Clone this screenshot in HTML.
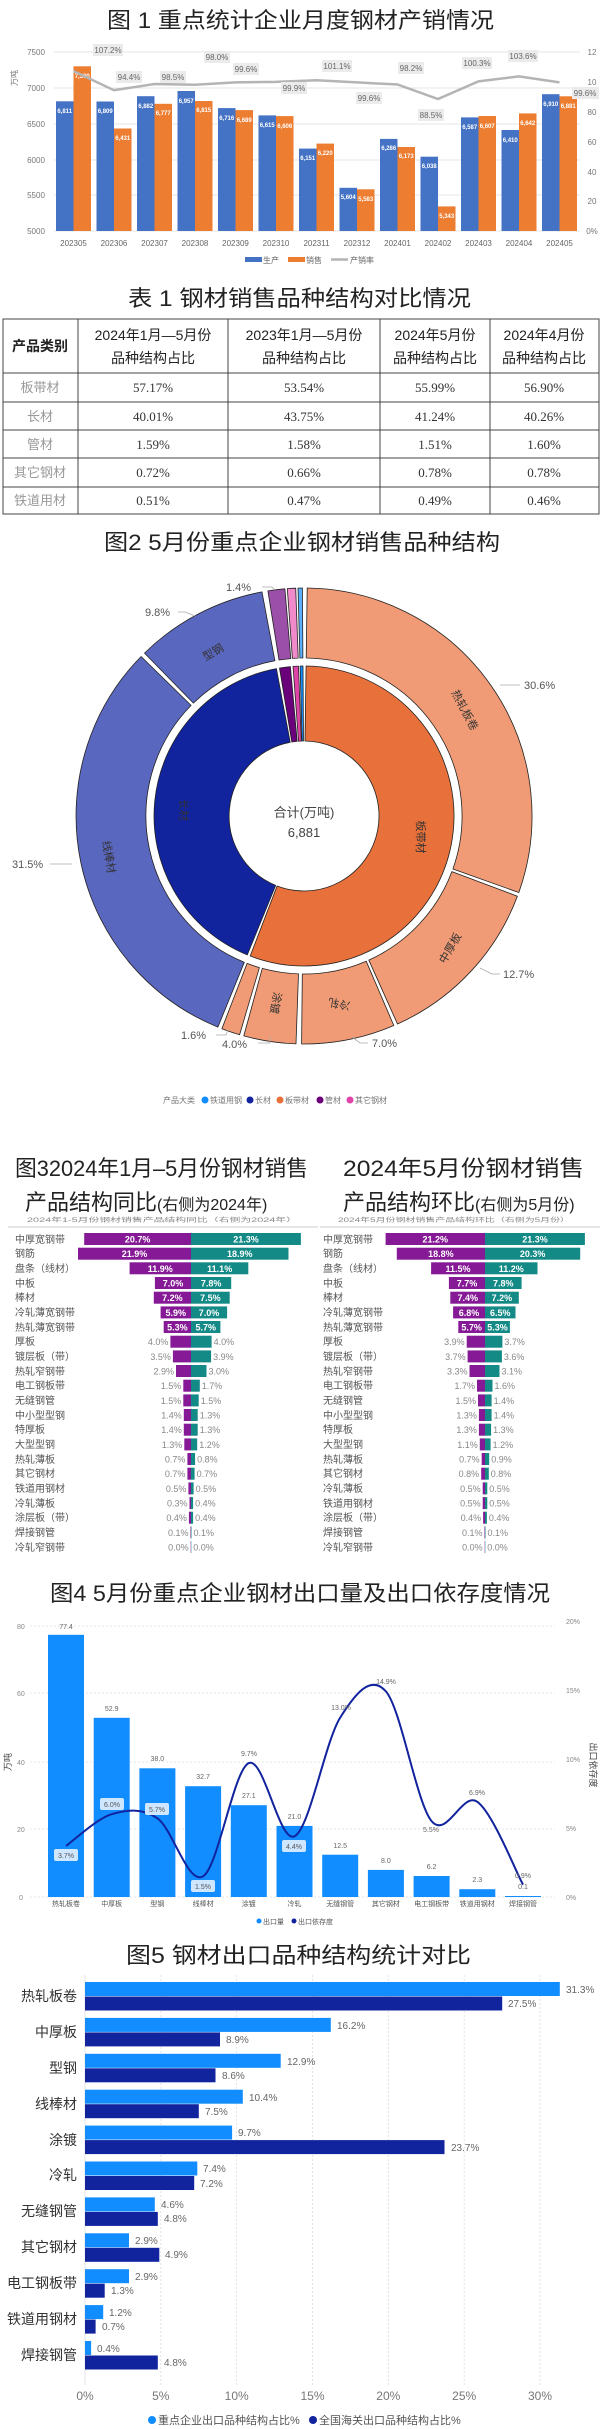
<!DOCTYPE html>
<html><head><meta charset="utf-8"><style>
html,body{margin:0;padding:0;background:#fff;}
svg{display:block;font-family:"Liberation Sans","Noto Sans CJK SC",sans-serif;}
</style></head><body>
<svg width="600" height="2429" viewBox="0 0 600 2429" xmlns="http://www.w3.org/2000/svg">
<rect width="600" height="2429" fill="#fff"/>

<!-- ============ FIG 1 ============ -->
<text x="107" y="28" font-size="22" fill="#222" textLength="387" lengthAdjust="spacingAndGlyphs">图 1 重点统计企业月度钢材产销情况</text>
<g stroke="#e4e4e4" stroke-width="1">
<line x1="54" y1="52" x2="580" y2="52"/><line x1="54" y1="88" x2="580" y2="88"/><line x1="54" y1="124" x2="580" y2="124"/><line x1="54" y1="160" x2="580" y2="160"/><line x1="54" y1="195" x2="580" y2="195"/><line x1="54" y1="231" x2="580" y2="231"/>
</g>
<g font-size="8" fill="#777" text-anchor="middle">
<text x="36" y="55">7500</text><text x="36" y="91">7000</text><text x="36" y="127">6500</text><text x="36" y="163">6000</text><text x="36" y="198">5500</text><text x="36" y="234">5000</text>
<text x="592" y="55">12</text><text x="592" y="85">10</text><text x="592" y="115">80</text><text x="592" y="145">60</text><text x="592" y="175">40</text><text x="592" y="204">20</text><text x="592" y="234">0%</text>
<text x="17" y="78" transform="rotate(-90 17 78)">万吨</text>
</g>
<g fill="#4472C4">
<rect x="56" y="101.3" width="17.5" height="129.7"/><rect x="96.5" y="101.5" width="17.5" height="129.5"/><rect x="137" y="96.2" width="17.5" height="134.8"/><rect x="177.5" y="91" width="17.5" height="140"/><rect x="218" y="108.1" width="17.5" height="122.9"/><rect x="258.5" y="115.4" width="17.5" height="115.6"/><rect x="299" y="148.6" width="17.5" height="82.4"/><rect x="339.5" y="187.8" width="17.5" height="43.2"/><rect x="380" y="138.9" width="17.5" height="92.1"/><rect x="420.5" y="156.7" width="17.5" height="74.3"/><rect x="461" y="117.4" width="17.5" height="113.6"/><rect x="501.5" y="130" width="17.5" height="101"/><rect x="542" y="94.2" width="17.5" height="136.8"/>
</g>
<g fill="#ED7D31">
<rect x="73.5" y="66.3" width="17.5" height="164.7"/><rect x="114" y="128.5" width="17.5" height="102.5"/><rect x="154.5" y="103.8" width="17.5" height="127.2"/><rect x="195" y="101" width="17.5" height="130"/><rect x="235.5" y="110.1" width="17.5" height="120.9"/><rect x="276" y="116.1" width="17.5" height="114.9"/><rect x="316.5" y="143.6" width="17.5" height="87.4"/><rect x="357" y="189.3" width="17.5" height="41.7"/><rect x="397.5" y="147" width="17.5" height="84"/><rect x="438" y="206.4" width="17.5" height="24.6"/><rect x="478.5" y="116" width="17.5" height="115"/><rect x="519" y="113.4" width="17.5" height="117.6"/><rect x="559.5" y="96.3" width="17.5" height="134.7"/>
</g>
<g font-size="6" fill="#fff" text-anchor="middle" font-weight="bold">
<text x="64.7" y="113">6,811</text><text x="105.2" y="113">6,809</text><text x="145.7" y="108">6,882</text><text x="186.2" y="103">6,957</text><text x="226.7" y="120">6,716</text><text x="267.2" y="127">6,615</text><text x="307.7" y="160">6,151</text><text x="348.2" y="199">5,604</text><text x="388.7" y="150">6,286</text><text x="429.2" y="168">6,038</text><text x="469.7" y="129">6,587</text><text x="510.2" y="142">6,410</text><text x="550.7" y="106">6,910</text>
<text x="82.2" y="78">7,300</text><text x="122.7" y="140">6,431</text><text x="163.2" y="115">6,777</text><text x="203.7" y="112">6,815</text><text x="244.2" y="122">6,689</text><text x="284.7" y="128">6,606</text><text x="325.2" y="155">6,220</text><text x="365.7" y="201">5,583</text><text x="406.2" y="158">6,173</text><text x="446.7" y="218">5,343</text><text x="487.2" y="128">6,607</text><text x="527.7" y="125">6,642</text><text x="568.2" y="108">6,881</text>
</g>
<polyline fill="none" stroke="#b4b4b4" stroke-width="2.5" points="73.5,71.1 114,90.2 154.5,84 195,84.8 235.5,82.4 276,81.9 316.5,80.2 357,82.4 397.5,84.5 438,99 478.5,81.4 519,76.4 559.5,82.4"/>
<g font-size="8" fill="#666" text-anchor="middle">
<rect x="93" y="44" width="30" height="12" fill="#ebebeb"/><text x="108" y="53">107.2%</text>
<rect x="116" y="71" width="26" height="12" fill="#ebebeb"/><text x="129" y="80">94.4%</text>
<rect x="160" y="71" width="26" height="12" fill="#ebebeb"/><text x="173" y="80">98.5%</text>
<rect x="204" y="51" width="26" height="12" fill="#ebebeb"/><text x="217" y="60">98.0%</text>
<rect x="233" y="63" width="26" height="12" fill="#ebebeb"/><text x="246" y="72">99.6%</text>
<rect x="281" y="82" width="26" height="12" fill="#ebebeb"/><text x="294" y="91">99.9%</text>
<rect x="322" y="60" width="30" height="12" fill="#ebebeb"/><text x="337" y="69">101.1%</text>
<rect x="356" y="92" width="26" height="12" fill="#ebebeb"/><text x="369" y="101">99.6%</text>
<rect x="398" y="62" width="26" height="12" fill="#ebebeb"/><text x="411" y="71">98.2%</text>
<rect x="418" y="109" width="26" height="12" fill="#ebebeb"/><text x="431" y="118">88.5%</text>
<rect x="462" y="57" width="30" height="12" fill="#ebebeb"/><text x="477" y="66">100.3%</text>
<rect x="508" y="50" width="30" height="12" fill="#ebebeb"/><text x="523" y="59">103.6%</text>
<rect x="572" y="87" width="27" height="12" fill="#ebebeb"/><text x="585" y="96">99.6%</text>
</g>
<g font-size="8" fill="#666" text-anchor="middle">
<text x="73.5" y="246">202305</text><text x="114" y="246">202306</text><text x="154.5" y="246">202307</text><text x="195" y="246">202308</text><text x="235.5" y="246">202309</text><text x="276" y="246">202310</text><text x="316.5" y="246">202311</text><text x="357" y="246">202312</text><text x="397.5" y="246">202401</text><text x="438" y="246">202402</text><text x="478.5" y="246">202403</text><text x="519" y="246">202404</text><text x="559.5" y="246">202405</text>
</g>
<rect x="245" y="257" width="17" height="5" fill="#4472C4"/><text x="263" y="263" font-size="8" fill="#666">生产</text>
<rect x="288" y="257" width="17" height="5" fill="#ED7D31"/><text x="306" y="263" font-size="8" fill="#666">销售</text>
<line x1="331" y1="259.5" x2="348" y2="259.5" stroke="#b4b4b4" stroke-width="2.5"/><text x="350" y="263" font-size="8" fill="#666">产销率</text>

<!-- ============ TABLE 1 ============ -->
<text x="128" y="306" font-size="22" fill="#222" textLength="343" lengthAdjust="spacingAndGlyphs">表 1 钢材销售品种结构对比情况</text>
<g stroke="#444" stroke-width="1" fill="none">
<rect x="3" y="319" width="596" height="195"/>
<line x1="78" y1="319" x2="78" y2="514"/><line x1="228" y1="319" x2="228" y2="514"/><line x1="380" y1="319" x2="380" y2="514"/><line x1="490" y1="319" x2="490" y2="514"/>
<line x1="3" y1="373" x2="599" y2="373"/><line x1="3" y1="402" x2="599" y2="402"/><line x1="3" y1="430" x2="599" y2="430"/><line x1="3" y1="458" x2="599" y2="458"/><line x1="3" y1="487" x2="599" y2="487"/>
</g>
<g font-size="14" fill="#222" text-anchor="middle">
<text x="40" y="351" font-weight="bold">产品类别</text>
<text x="153" y="340">2024年1月—5月份</text><text x="153" y="363">品种结构占比</text>
<text x="304" y="340">2023年1月—5月份</text><text x="304" y="363">品种结构占比</text>
<text x="435" y="340">2024年5月份</text><text x="435" y="363">品种结构占比</text>
<text x="544" y="340">2024年4月份</text><text x="544" y="363">品种结构占比</text>
</g>
<g font-size="13" fill="#999" text-anchor="middle">
<text x="40" y="392">板带材</text><text x="40" y="421">长材</text><text x="40" y="449">管材</text><text x="40" y="477">其它钢材</text><text x="40" y="505">铁道用材</text>
</g>
<g font-size="13" fill="#333" text-anchor="middle" font-family="Liberation Serif,serif">
<text x="153" y="392">57.17%</text><text x="304" y="392">53.54%</text><text x="435" y="392">55.99%</text><text x="544" y="392">56.90%</text>
<text x="153" y="421">40.01%</text><text x="304" y="421">43.75%</text><text x="435" y="421">41.24%</text><text x="544" y="421">40.26%</text>
<text x="153" y="449">1.59%</text><text x="304" y="449">1.58%</text><text x="435" y="449">1.51%</text><text x="544" y="449">1.60%</text>
<text x="153" y="477">0.72%</text><text x="304" y="477">0.66%</text><text x="435" y="477">0.78%</text><text x="544" y="477">0.78%</text>
<text x="153" y="505">0.51%</text><text x="304" y="505">0.47%</text><text x="435" y="505">0.49%</text><text x="544" y="505">0.46%</text>
</g>

<!-- ============ FIG 2 ============ -->
<text x="104" y="550" font-size="22" fill="#222" textLength="396" lengthAdjust="spacingAndGlyphs">图2 5月份重点企业钢材销售品种结构</text>
<g stroke="#222" stroke-width="0.8" stroke-linejoin="round">
<path fill="#E8703A" d="M306.1,666 A150,150 0 1 1 250.2,956 L277.1,886 A75,75 0 1 0 305,741 Z"/>
<path fill="#12239E" d="M247.3,954.9 A150,150 0 0 1 276.4,668.6 L290.2,742.3 A75,75 0 0 0 275.7,885.4 Z"/>
<path fill="#6B007B" d="M279.5,668 A150,150 0 0 1 290.4,666.6 L297.2,741.3 A75,75 0 0 0 291.8,742 Z"/>
<path fill="#E044A7" d="M293,666.4 A150,150 0 0 1 298.5,666.1 L301.3,741.1 A75,75 0 0 0 298.5,741.2 Z"/>
<path fill="#118DFF" d="M300.1,666 A150,150 0 0 1 303,666 L303.5,741 A75,75 0 0 0 302,741 Z"/>
<path fill="#F09B75" d="M307.2,588 A228,228 0 0 1 518.8,892.5 L452.9,869 A158,158 0 0 0 306.2,658 Z"/>
<path fill="#F09B75" d="M517.4,896.2 A228,228 0 0 1 397.5,1024 L368.8,960.1 A158,158 0 0 0 451.9,871.6 Z"/>
<path fill="#F09B75" d="M393.8,1025.5 A228,228 0 0 1 301.6,1044 L302.3,974 A158,158 0 0 0 366.2,961.2 Z"/>
<path fill="#F09B75" d="M296,1043.9 A228,228 0 0 1 243.8,1035.9 L262.3,968.4 A158,158 0 0 0 298.5,973.9 Z"/>
<path fill="#F09B75" d="M239.6,1034.7 A228,228 0 0 1 221.9,1028.7 L247.1,963.4 A158,158 0 0 0 259.4,967.6 Z"/>
<path fill="#5A67BE" d="M217.9,1027.1 A228,228 0 0 1 141.1,656.5 L191.1,705.4 A158,158 0 0 0 244.3,962.3 Z"/>
<path fill="#5A67BE" d="M144.5,653.1 A228,228 0 0 1 262,591.9 L274.9,660.7 A158,158 0 0 0 193.4,703.1 Z"/>
<path fill="#9C4FA8" d="M267.9,590.9 A228,228 0 0 1 284.9,588.8 L290.8,658.6 A158,158 0 0 0 279,660 Z"/>
<path fill="#F08ACB" d="M287.3,588.6 A228,228 0 0 1 295.7,588.2 L298.2,658.1 A158,158 0 0 0 292.4,658.4 Z"/>
<path fill="#5AB0FF" d="M298,588.1 A228,228 0 0 1 302.4,588 L302.9,658 A158,158 0 0 0 299.9,658 Z"/>
</g>
<g font-size="13" fill="#444" text-anchor="middle">
<text x="304" y="817">合计(万吨)</text><text x="304" y="837">6,881</text>
</g>
<g font-size="11" fill="#333" text-anchor="middle">
<text transform="translate(184,810) rotate(90)" y="4">长材</text>
<text transform="translate(421,837) rotate(90)" y="4">板带材</text>
<text transform="translate(465,710) rotate(62)" y="4">热轧板卷</text>
<text transform="translate(450,948) rotate(-60)" y="4">中厚板</text>
<text transform="translate(339,1004) rotate(190)" y="4">冷轧</text>
<text transform="translate(276,1003) rotate(100)" y="4">涂镀</text>
<text transform="translate(109,857) rotate(80)" y="4">线棒材</text>
<text transform="translate(213,652) rotate(-30)" y="4">型钢</text>
</g>
<g font-size="11" fill="#555">
<text x="524" y="689">30.6%</text><text x="503" y="978">12.7%</text><text x="372" y="1047">7.0%</text><text x="222" y="1048">4.0%</text><text x="181" y="1039">1.6%</text><text x="12" y="868">31.5%</text><text x="145" y="616">9.8%</text><text x="226" y="591">1.4%</text>
</g>
<g stroke="#aaa" stroke-width="0.8" fill="none">
<polyline points="500,685 520,685"/><polyline points="480,968 492,974 500,974"/><polyline points="352,1037 360,1043 368,1043"/><polyline points="270,1036 270,1043 258,1043"/><polyline points="228,1030 226,1035 216,1035"/><polyline points="72,864 60,864 50,864"/><polyline points="195,616 185,612 178,612"/><polyline points="275,590 272,587 262,587"/>
</g>
<g font-size="8" fill="#777">
<text x="163" y="1103">产品大类</text>
<circle cx="205" cy="1100" r="3.5" fill="#118DFF"/><text x="210" y="1103">铁道用钢</text>
<circle cx="250" cy="1100" r="3.5" fill="#12239E"/><text x="255" y="1103">长材</text>
<circle cx="280" cy="1100" r="3.5" fill="#E8703A"/><text x="285" y="1103">板带材</text>
<circle cx="320" cy="1100" r="3.5" fill="#6B007B"/><text x="325" y="1103">管材</text>
<circle cx="350" cy="1100" r="3.5" fill="#E044A7"/><text x="355" y="1103">其它钢材</text>
</g>

<!-- ============ FIG 3 ============ -->
<text x="15" y="1176" font-size="22" fill="#222" textLength="293" lengthAdjust="spacingAndGlyphs">图32024年1月–5月份钢材销售</text>
<text x="25" y="1210" font-size="22" fill="#222">产品结构同比<tspan font-size="16">(右侧为2024年)</tspan></text>
<text x="343" y="1176" font-size="22" fill="#222" textLength="241" lengthAdjust="spacingAndGlyphs">2024年5月份钢材销售</text>
<text x="343" y="1210" font-size="22" fill="#222">产品结构环比<tspan font-size="16">(右侧为5月份)</tspan></text>
<text x="27" y="1222" font-size="6" fill="#888" textLength="270" lengthAdjust="spacingAndGlyphs">2024年1-5月份钢材销售产品结构同比（右侧为2024年）</text>
<text x="338" y="1222" font-size="6" fill="#888" textLength="232" lengthAdjust="spacingAndGlyphs">2024年5月份钢材销售产品结构环比（右侧为5月份）</text>
<line x1="8" y1="1227" x2="318" y2="1227" stroke="#ccc"/><line x1="320" y1="1227" x2="600" y2="1227" stroke="#ccc"/>
<g font-size="10" fill="#555">
<text x="15" y="1243">中厚宽钢带</text><text x="15" y="1257">钢筋</text><text x="15" y="1272">盘条（线材）</text><text x="15" y="1287">中板</text><text x="15" y="1301">棒材</text><text x="15" y="1316">冷轧薄宽钢带</text><text x="15" y="1331">热轧薄宽钢带</text><text x="15" y="1345">厚板</text><text x="15" y="1360">镀层板（带）</text><text x="15" y="1375">热轧窄钢带</text><text x="15" y="1389">电工钢板带</text><text x="15" y="1404">无缝钢管</text><text x="15" y="1419">中小型型钢</text><text x="15" y="1433">特厚板</text><text x="15" y="1448">大型型钢</text><text x="15" y="1463">热轧薄板</text><text x="15" y="1477">其它钢材</text><text x="15" y="1492">铁道用钢材</text><text x="15" y="1507">冷轧薄板</text><text x="15" y="1521">涂层板（带）</text><text x="15" y="1536">焊接钢管</text><text x="15" y="1551">冷轧窄钢带</text>
<text x="323" y="1243">中厚宽钢带</text><text x="323" y="1257">钢筋</text><text x="323" y="1272">盘条（线材）</text><text x="323" y="1287">中板</text><text x="323" y="1301">棒材</text><text x="323" y="1316">冷轧薄宽钢带</text><text x="323" y="1331">热轧薄宽钢带</text><text x="323" y="1345">厚板</text><text x="323" y="1360">镀层板（带）</text><text x="323" y="1375">热轧窄钢带</text><text x="323" y="1389">电工钢板带</text><text x="323" y="1404">无缝钢管</text><text x="323" y="1419">中小型型钢</text><text x="323" y="1433">特厚板</text><text x="323" y="1448">大型型钢</text><text x="323" y="1463">热轧薄板</text><text x="323" y="1477">其它钢材</text><text x="323" y="1492">冷轧薄板</text><text x="323" y="1507">铁道用钢材</text><text x="323" y="1521">涂层板（带）</text><text x="323" y="1536">焊接钢管</text><text x="323" y="1551">冷轧窄钢带</text>
</g>
<g fill="#861A96">
<rect x="84.2" y="1233" width="106.8" height="12"/><rect x="78" y="1247.7" width="113" height="12"/><rect x="129.6" y="1262.3" width="61.4" height="12"/><rect x="154.9" y="1277" width="36.1" height="12"/><rect x="153.8" y="1291.7" width="37.2" height="12"/><rect x="160.6" y="1306.4" width="30.4" height="12"/><rect x="163.7" y="1321" width="27.3" height="12"/><rect x="170.4" y="1335.7" width="20.6" height="12"/><rect x="172.9" y="1350.4" width="18.1" height="12"/><rect x="176" y="1365" width="15" height="12"/><rect x="183.3" y="1379.7" width="7.7" height="12"/><rect x="183.3" y="1394.4" width="7.7" height="12"/><rect x="183.8" y="1409" width="7.2" height="12"/><rect x="183.8" y="1423.7" width="7.2" height="12"/><rect x="184.3" y="1438.4" width="6.7" height="12"/><rect x="187.4" y="1453" width="3.6" height="12"/><rect x="187.4" y="1467.7" width="3.6" height="12"/><rect x="188.4" y="1482.4" width="2.6" height="12"/><rect x="189.5" y="1497.1" width="1.5" height="12"/><rect x="188.9" y="1511.7" width="2.1" height="12"/><rect x="190.5" y="1526.4" width="0.5" height="12"/><rect x="190.7" y="1541.1" width="0.3" height="12"/>
<rect x="385.6" y="1233" width="99.4" height="12"/><rect x="396.8" y="1247.7" width="88.2" height="12"/><rect x="431.1" y="1262.3" width="53.9" height="12"/><rect x="448.9" y="1277" width="36.1" height="12"/><rect x="450.3" y="1291.7" width="34.7" height="12"/><rect x="453.1" y="1306.4" width="31.9" height="12"/><rect x="458.3" y="1321" width="26.7" height="12"/><rect x="466.7" y="1335.7" width="18.3" height="12"/><rect x="467.6" y="1350.4" width="17.4" height="12"/><rect x="469.5" y="1365" width="15.5" height="12"/><rect x="477" y="1379.7" width="8" height="12"/><rect x="478" y="1394.4" width="7" height="12"/><rect x="478.9" y="1409" width="6.1" height="12"/><rect x="478.9" y="1423.7" width="6.1" height="12"/><rect x="479.8" y="1438.4" width="5.2" height="12"/><rect x="481.7" y="1453" width="3.3" height="12"/><rect x="481.2" y="1467.7" width="3.8" height="12"/><rect x="482.7" y="1482.4" width="2.3" height="12"/><rect x="482.7" y="1497.1" width="2.3" height="12"/><rect x="483.1" y="1511.7" width="1.9" height="12"/><rect x="484.5" y="1526.4" width="0.5" height="12"/><rect x="484.7" y="1541.1" width="0.3" height="12"/>
</g>
<g fill="#148A87">
<rect x="191" y="1233" width="109.9" height="12"/><rect x="191" y="1247.7" width="97.5" height="12"/><rect x="191" y="1262.3" width="57.3" height="12"/><rect x="191" y="1277" width="40.2" height="12"/><rect x="191" y="1291.7" width="38.7" height="12"/><rect x="191" y="1306.4" width="36.1" height="12"/><rect x="191" y="1321" width="29.4" height="12"/><rect x="191" y="1335.7" width="20.6" height="12"/><rect x="191" y="1350.4" width="20.1" height="12"/><rect x="191" y="1365" width="15.5" height="12"/><rect x="191" y="1379.7" width="8.8" height="12"/><rect x="191" y="1394.4" width="7.7" height="12"/><rect x="191" y="1409" width="6.7" height="12"/><rect x="191" y="1423.7" width="6.7" height="12"/><rect x="191" y="1438.4" width="6.2" height="12"/><rect x="191" y="1453" width="4.1" height="12"/><rect x="191" y="1467.7" width="3.6" height="12"/><rect x="191" y="1482.4" width="2.6" height="12"/><rect x="191" y="1497.1" width="2.1" height="12"/><rect x="191" y="1511.7" width="2.1" height="12"/><rect x="191" y="1526.4" width="0.5" height="12"/><rect x="191" y="1541.1" width="0.3" height="12"/>
<rect x="485" y="1233" width="99.9" height="12"/><rect x="485" y="1247.7" width="95.2" height="12"/><rect x="485" y="1262.3" width="52.5" height="12"/><rect x="485" y="1277" width="36.6" height="12"/><rect x="485" y="1291.7" width="33.8" height="12"/><rect x="485" y="1306.4" width="30.5" height="12"/><rect x="485" y="1321" width="24.9" height="12"/><rect x="485" y="1335.7" width="17.4" height="12"/><rect x="485" y="1350.4" width="16.9" height="12"/><rect x="485" y="1365" width="14.5" height="12"/><rect x="485" y="1379.7" width="7.5" height="12"/><rect x="485" y="1394.4" width="6.6" height="12"/><rect x="485" y="1409" width="6.6" height="12"/><rect x="485" y="1423.7" width="6.1" height="12"/><rect x="485" y="1438.4" width="5.6" height="12"/><rect x="485" y="1453" width="4.2" height="12"/><rect x="485" y="1467.7" width="3.8" height="12"/><rect x="485" y="1482.4" width="2.3" height="12"/><rect x="485" y="1497.1" width="2.3" height="12"/><rect x="485" y="1511.7" width="1.9" height="12"/><rect x="485" y="1526.4" width="0.5" height="12"/><rect x="485" y="1541.1" width="0.3" height="12"/>
</g>
<g font-size="9" fill="#fff" text-anchor="middle" font-weight="bold">
<text x="137.6" y="1242.5">20.7%</text><text x="246" y="1242.5">21.3%</text>
<text x="134.5" y="1257.2">21.9%</text><text x="239.8" y="1257.2">18.9%</text>
<text x="160.3" y="1271.8">11.9%</text><text x="219.7" y="1271.8">11.1%</text>
<text x="173" y="1286.5">7.0%</text><text x="211.1" y="1286.5">7.8%</text>
<text x="172.4" y="1301.2">7.2%</text><text x="210.4" y="1301.2">7.5%</text>
<text x="175.8" y="1315.9">5.9%</text><text x="209" y="1315.9">7.0%</text>
<text x="177.4" y="1330.5">5.3%</text><text x="205.7" y="1330.5">5.7%</text>
<text x="435.3" y="1242.5">21.2%</text><text x="535" y="1242.5">21.3%</text>
<text x="440.9" y="1257.2">18.8%</text><text x="532.6" y="1257.2">20.3%</text>
<text x="458" y="1271.8">11.5%</text><text x="511.3" y="1271.8">11.2%</text>
<text x="467" y="1286.5">7.7%</text><text x="503.3" y="1286.5">7.8%</text>
<text x="467.7" y="1301.2">7.4%</text><text x="501.9" y="1301.2">7.2%</text>
<text x="469" y="1315.9">6.8%</text><text x="500.3" y="1315.9">6.5%</text>
<text x="471.6" y="1330.5">5.7%</text><text x="497.5" y="1330.5">5.3%</text>
</g>
<g font-size="9" fill="#888" text-anchor="end">
<text x="168.4" y="1345.2">4.0%</text><text x="170.9" y="1359.9">3.5%</text><text x="174" y="1374.5">2.9%</text><text x="181.3" y="1389.2">1.5%</text><text x="181.3" y="1403.9">1.5%</text><text x="181.8" y="1418.5">1.4%</text><text x="181.8" y="1433.2">1.4%</text><text x="182.3" y="1447.9">1.3%</text><text x="185.4" y="1462.5">0.7%</text><text x="185.4" y="1477.2">0.7%</text><text x="186.4" y="1491.9">0.5%</text><text x="187.5" y="1506.6">0.3%</text><text x="186.9" y="1521.2">0.4%</text><text x="188.5" y="1535.9">0.1%</text><text x="188.7" y="1550.6">0.0%</text>
<text x="464.7" y="1345.2">3.9%</text><text x="465.6" y="1359.9">3.7%</text><text x="467.5" y="1374.5">3.3%</text><text x="475" y="1389.2">1.7%</text><text x="476" y="1403.9">1.5%</text><text x="476.9" y="1418.5">1.3%</text><text x="476.9" y="1433.2">1.3%</text><text x="477.8" y="1447.9">1.1%</text><text x="479.7" y="1462.5">0.7%</text><text x="479.2" y="1477.2">0.8%</text><text x="480.7" y="1491.9">0.5%</text><text x="480.7" y="1506.6">0.5%</text><text x="481.1" y="1521.2">0.4%</text><text x="482.5" y="1535.9">0.1%</text><text x="482.7" y="1550.6">0.0%</text>
</g>
<g font-size="9" fill="#888">
<text x="213.6" y="1345.2">4.0%</text><text x="213.1" y="1359.9">3.9%</text><text x="208.5" y="1374.5">3.0%</text><text x="201.8" y="1389.2">1.7%</text><text x="200.7" y="1403.9">1.5%</text><text x="199.7" y="1418.5">1.3%</text><text x="199.7" y="1433.2">1.3%</text><text x="199.2" y="1447.9">1.2%</text><text x="197.1" y="1462.5">0.8%</text><text x="196.6" y="1477.2">0.7%</text><text x="195.6" y="1491.9">0.5%</text><text x="195.1" y="1506.6">0.4%</text><text x="195.1" y="1521.2">0.4%</text><text x="193.5" y="1535.9">0.1%</text><text x="193.3" y="1550.6">0.0%</text>
<text x="504.4" y="1345.2">3.7%</text><text x="503.9" y="1359.9">3.6%</text><text x="501.5" y="1374.5">3.1%</text><text x="494.5" y="1389.2">1.6%</text><text x="493.6" y="1403.9">1.4%</text><text x="493.6" y="1418.5">1.4%</text><text x="493.1" y="1433.2">1.3%</text><text x="492.6" y="1447.9">1.2%</text><text x="491.2" y="1462.5">0.9%</text><text x="490.8" y="1477.2">0.8%</text><text x="489.3" y="1491.9">0.5%</text><text x="489.3" y="1506.6">0.5%</text><text x="488.9" y="1521.2">0.4%</text><text x="487.5" y="1535.9">0.1%</text><text x="487.3" y="1550.6">0.0%</text>
</g>

<!-- ============ FIG 4 ============ -->
<text x="50" y="1601" font-size="22" fill="#222" textLength="500" lengthAdjust="spacingAndGlyphs">图4 5月份重点企业钢材出口量及出口依存度情况</text>
<g stroke="#ddd" stroke-width="0.8" stroke-dasharray="2,2">
<line x1="30" y1="1626" x2="555" y2="1626"/><line x1="30" y1="1693" x2="555" y2="1693"/><line x1="30" y1="1762" x2="555" y2="1762"/><line x1="30" y1="1829" x2="555" y2="1829"/><line x1="30" y1="1897" x2="555" y2="1897"/>
</g>
<g font-size="7" fill="#888">
<text x="17" y="1629">80</text><text x="17" y="1696">60</text><text x="17" y="1765">40</text><text x="17" y="1832">20</text><text x="19" y="1900">0</text>
<text x="566" y="1624">20%</text><text x="566" y="1693">15%</text><text x="566" y="1762">10%</text><text x="566" y="1831">5%</text><text x="566" y="1900">0%</text>
</g>
<text x="11" y="1762" font-size="9" fill="#444" transform="rotate(-90 11 1762)" text-anchor="middle">万吨</text>
<text x="590" y="1765" font-size="9" fill="#444" transform="rotate(90 590 1765)" text-anchor="middle">出口依存度</text>
<g fill="#118DFF">
<rect x="48" y="1634.8" width="36" height="262.2"/><rect x="93.7" y="1717.8" width="36" height="179.2"/><rect x="139.4" y="1768.3" width="36" height="128.7"/><rect x="185.1" y="1786.2" width="36" height="110.8"/><rect x="230.8" y="1805.2" width="36" height="91.8"/><rect x="276.5" y="1825.9" width="36" height="71.1"/><rect x="322.2" y="1854.7" width="36" height="42.3"/><rect x="367.9" y="1869.9" width="36" height="27.1"/><rect x="413.6" y="1876" width="36" height="21"/><rect x="459.3" y="1889.2" width="36" height="7.8"/><rect x="505" y="1896" width="36" height="1"/>
</g>
<path fill="none" stroke="#12239E" stroke-width="2" d="M66,1845.9 C73.6,1840.6 96.5,1818.8 111.7,1814.2 C126.9,1809.6 142.2,1807.95 157.4,1818.3 C172.6,1828.65 187.9,1885.5 203.1,1876.3 C218.3,1867.1 233.6,1769.8 248.8,1763.1 C264,1756.4 279.3,1843.9 294.5,1836.3 C309.7,1828.7 325,1741.75 340.2,1717.6 C355.4,1693.45 370.7,1674.15 385.9,1691.4 C401.1,1708.65 416.4,1802.7 431.6,1821.1 C446.8,1839.5 462.1,1791.2 477.3,1801.8 C492.5,1812.4 515.4,1870.8 523,1884.6"/>
<g font-size="7" fill="#666" text-anchor="middle">
<text x="66" y="1629">77.4</text><text x="111.7" y="1711">52.9</text><text x="157.4" y="1761">38.0</text><text x="203.1" y="1779">32.7</text><text x="248.8" y="1798">27.1</text><text x="294.5" y="1819">21.0</text><text x="340.2" y="1848">12.5</text><text x="385.9" y="1863">8.0</text><text x="431.6" y="1869">6.2</text><text x="477.3" y="1882">2.3</text><text x="523" y="1889">0.1</text>
<text x="249" y="1756">9.7%</text><text x="341" y="1710">13.0%</text><text x="386" y="1684">14.9%</text><text x="431" y="1832">5.5%</text><text x="477" y="1795">6.9%</text><text x="523" y="1878">0.9%</text>
</g>
<g font-size="7" fill="#555" text-anchor="middle">
<rect x="54" y="1849" width="24" height="12" rx="2" fill="#cfe6ff"/><text x="66" y="1858">3.7%</text>
<rect x="100" y="1798" width="24" height="12" rx="2" fill="#cfe6ff"/><text x="112" y="1807">6.0%</text>
<rect x="145" y="1803" width="24" height="12" rx="2" fill="#cfe6ff"/><text x="157" y="1812">5.7%</text>
<rect x="191" y="1880" width="24" height="12" rx="2" fill="#cfe6ff"/><text x="203" y="1889">1.5%</text>
<rect x="282" y="1840" width="24" height="12" rx="2" fill="#cfe6ff"/><text x="294" y="1849">4.4%</text>
</g>
<g font-size="7" fill="#555" text-anchor="middle">
<text x="66" y="1906">热轧板卷</text><text x="111.7" y="1906">中厚板</text><text x="157.4" y="1906">型钢</text><text x="203.1" y="1906">线棒材</text><text x="248.8" y="1906">涂镀</text><text x="294.5" y="1906">冷轧</text><text x="340.2" y="1906">无缝钢管</text><text x="385.9" y="1906">其它钢材</text><text x="431.6" y="1906">电工钢板带</text><text x="477.3" y="1906">铁道用钢材</text><text x="523" y="1906">焊接钢管</text>
</g>
<circle cx="259" cy="1921" r="2.5" fill="#118DFF"/><text x="263" y="1924" font-size="7" fill="#555">出口量</text>
<circle cx="294" cy="1921" r="2.5" fill="#12239E"/><text x="298" y="1924" font-size="7" fill="#555">出口依存度</text>

<!-- ============ FIG 5 ============ -->
<text x="126" y="1963" font-size="22" fill="#222" textLength="345" lengthAdjust="spacingAndGlyphs">图5 钢材出口品种结构统计对比</text>
<g stroke="#ddd" stroke-width="0.8" stroke-dasharray="2,2">
<line x1="160.8" y1="1975" x2="160.8" y2="2385"/><line x1="236.7" y1="1975" x2="236.7" y2="2385"/><line x1="312.5" y1="1975" x2="312.5" y2="2385"/><line x1="388.3" y1="1975" x2="388.3" y2="2385"/><line x1="464.2" y1="1975" x2="464.2" y2="2385"/><line x1="540" y1="1975" x2="540" y2="2385"/>
</g>
<line x1="85" y1="1975" x2="85" y2="2385" stroke="#ddd" stroke-width="0.8"/>
<g fill="#118DFF">
<rect x="85" y="1982" width="474.8" height="14"/><rect x="85" y="2017.9" width="245.8" height="14"/><rect x="85" y="2053.8" width="195.7" height="14"/><rect x="85" y="2089.7" width="157.8" height="14"/><rect x="85" y="2125.6" width="147.1" height="14"/><rect x="85" y="2161.5" width="112.3" height="14"/><rect x="85" y="2197.4" width="69.8" height="14"/><rect x="85" y="2233.3" width="44" height="14"/><rect x="85" y="2269.2" width="44" height="14"/><rect x="85" y="2305.1" width="18.2" height="14"/><rect x="85" y="2341" width="6.1" height="14"/>
</g>
<g fill="#12239E">
<rect x="85" y="1996.5" width="417.2" height="14"/><rect x="85" y="2032.4" width="135" height="14"/><rect x="85" y="2068.3" width="130.5" height="14"/><rect x="85" y="2104.2" width="113.8" height="14"/><rect x="85" y="2140.1" width="359.5" height="14"/><rect x="85" y="2176" width="109.2" height="14"/><rect x="85" y="2211.9" width="72.8" height="14"/><rect x="85" y="2247.8" width="74.3" height="14"/><rect x="85" y="2283.7" width="19.7" height="14"/><rect x="85" y="2319.6" width="10.6" height="14"/><rect x="85" y="2355.5" width="72.8" height="14"/>
</g>
<g font-size="10" fill="#666">
<text x="566" y="1993">31.3%</text><text x="337" y="2029">16.2%</text><text x="287" y="2065">12.9%</text><text x="249" y="2101">10.4%</text><text x="238" y="2136">9.7%</text><text x="203" y="2172">7.4%</text><text x="161" y="2208">4.6%</text><text x="135" y="2244">2.9%</text><text x="135" y="2280">2.9%</text><text x="109" y="2316">1.2%</text><text x="97" y="2352">0.4%</text>
<text x="508" y="2007">27.5%</text><text x="226" y="2043">8.9%</text><text x="222" y="2079">8.6%</text><text x="205" y="2115">7.5%</text><text x="451" y="2151">23.7%</text><text x="200" y="2187">7.2%</text><text x="164" y="2222">4.8%</text><text x="165" y="2258">4.9%</text><text x="111" y="2294">1.3%</text><text x="102" y="2330">0.7%</text><text x="164" y="2366">4.8%</text>
</g>
<g font-size="14" fill="#333" text-anchor="end">
<text x="77" y="2001">热轧板卷</text><text x="77" y="2037">中厚板</text><text x="77" y="2073">型钢</text><text x="77" y="2109">线棒材</text><text x="77" y="2145">涂镀</text><text x="77" y="2180">冷轧</text><text x="77" y="2216">无缝钢管</text><text x="77" y="2252">其它钢材</text><text x="77" y="2288">电工钢板带</text><text x="77" y="2324">铁道用钢材</text><text x="77" y="2360">焊接钢管</text>
</g>
<g font-size="12" fill="#777" text-anchor="middle">
<text x="85" y="2400">0%</text><text x="160.8" y="2400">5%</text><text x="236.7" y="2400">10%</text><text x="312.5" y="2400">15%</text><text x="388.3" y="2400">20%</text><text x="464.2" y="2400">25%</text><text x="540" y="2400">30%</text>
</g>
<circle cx="152" cy="2420" r="4" fill="#118DFF"/><text x="158" y="2424" font-size="11" fill="#555">重点企业出口品种结构占比%</text>
<circle cx="313" cy="2420" r="4" fill="#12239E"/><text x="319" y="2424" font-size="11" fill="#555">全国海关出口品种结构占比%</text>
</svg>
</body></html>
